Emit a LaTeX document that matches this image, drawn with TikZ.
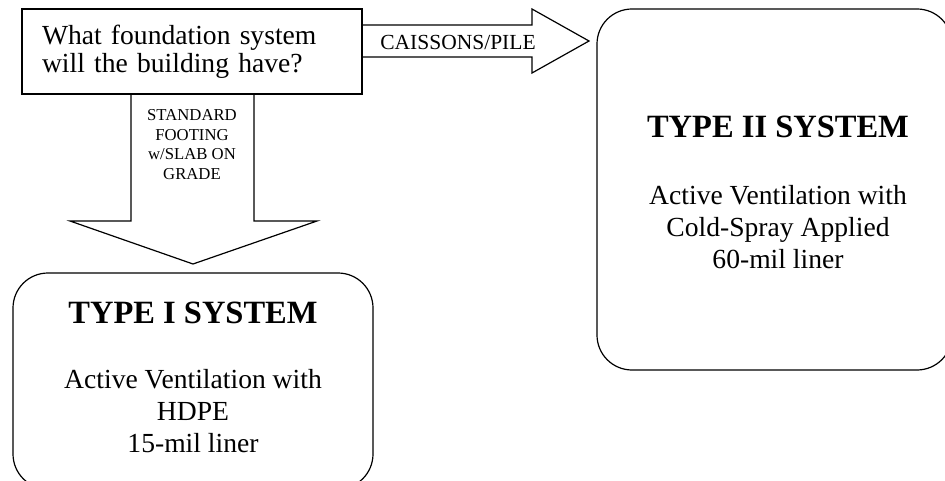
\documentclass[tikz,border=0pt]{standalone}
\usepackage{fontspec}
\setmainfont{Liberation Serif}

\begin{document}
\begin{tikzpicture}[x=1pt,y=-1pt,line width=1.2pt,
	qbox/.style={draw, rectangle, minimum width=340pt, minimum height=85pt, text width=300pt, align=left, inner sep=0pt, font=\fontsize{27.6}{28}\selectfont},
	sysbox/.style={draw, rectangle, rounded corners=35pt},
	systitle/.style={font=\fontsize{32.5}{36}\selectfont\bfseries, inner sep=0pt, anchor=base},
	systext/.style={font=\fontsize{27.6}{32}\selectfont, align=center, inner sep=0pt, anchor=base},
	arrowtext/.style={inner sep=0pt, anchor=base, align=center},
	blockarrow/.style={draw, fill=white, line join=miter}]
	\useasboundingbox (0,0) rectangle (945,481);
	
	%arrows
	\draw[blockarrow] (131,94) -- (131,221) -- (70,221) -- (193,264) -- (317,221) -- (254,221) -- (254,94);
	\draw[blockarrow] (362,25) -- (532,25) -- (532,9) -- (589,41) -- (532,73) -- (532,57) -- (362,57);
	
	%boxes
	\node[qbox] (question) at (192,51.5) {What foundation system\\ will the building have?};
	\node[sysbox, minimum width=360pt, minimum height=216pt] (typeI) at (193,381) {};
	\node[sysbox, minimum width=355pt, minimum height=361pt] (typeII) at (774.5,189.5) {};
	
	%arrow labels (base = last line)
	\node[arrowtext, font=\fontsize{21.5}{24}\selectfont] (piletext) at (458,50) {CAISSONS/PILE};
	\node[arrowtext, font=\fontsize{16.7}{19.5}\selectfont] (footingtext) at (192,179.3) {STANDARD\\FOOTING\\w/SLAB ON\\GRADE};
	
	%system labels
	\node[systitle] (typeItitle) at (193,323) {TYPE I SYSTEM};
	\node[systext] (typeItext) at (193,452) {Active Ventilation with\\HDPE\\15-mil liner};
	\node[systitle] (typeIItitle) at (778,138) {TYPE II SYSTEM};
	\node[systext] (typeIItext) at (778,268) {Active Ventilation with\\Cold-Spray Applied\\60-mil liner};
\end{tikzpicture}
\end{document}
